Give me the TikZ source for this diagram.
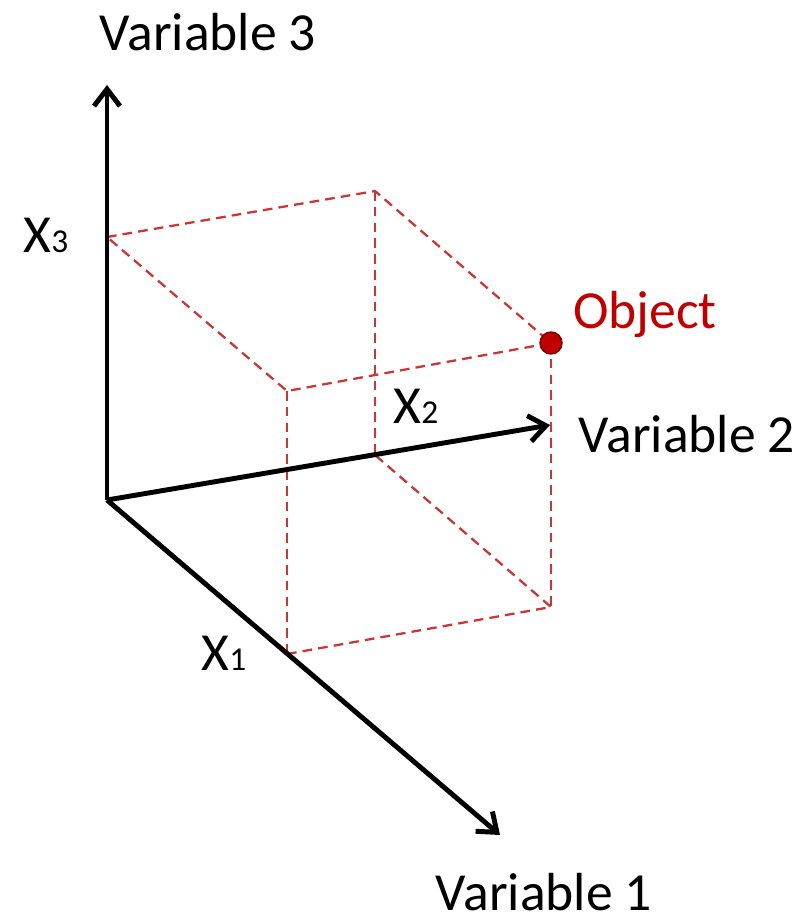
\documentclass[tikz,border=0pt]{standalone}
\usepackage{fontspec}
\setmainfont{Carlito}
\usetikzlibrary{arrows.meta}
\definecolor{objred}{RGB}{192,0,0}
\definecolor{projred}{RGB}{200,55,55}
\tikzset{
  axe/.style={line width=2.8pt, -{Straight Barb[length=3.4mm,width=5.2mm]}},
  proj/.style={projred, line width=1.3pt, dash pattern=on 5.5pt off 3.5pt},
  lbl/.style={font=\fontsize{30.5}{36}\selectfont, inner sep=0pt, anchor=base},
}
\newcommand{\idx}[1]{{\fontsize{19}{22}\selectfont #1}}

\begin{document}
\begin{tikzpicture}[x=0.02cm, y=-0.02cm]
\useasboundingbox (0,0) rectangle (812,924);
% Axes et points
\coordinate (O) at (107,500);
\coordinate (V1) at (500,835);
\coordinate (V2) at (550,425);
\coordinate (V3) at (107,85);
\coordinate (X1) at (287,654);
\coordinate (X2) at (375,455);
\coordinate (X3) at (107,237);
\coordinate (B) at (375,191);
\coordinate (F) at (287,391);
\coordinate (P) at (551,343);
\coordinate (Q) at (551,607);
% Projections
\draw[proj] (X3) -- (B) -- (P) -- (F) -- cycle;
\draw[proj] (X1) -- (Q) -- (X2);
\draw[proj] (B) -- (X2);
\draw[proj] (F) -- (X1);
\draw[proj] (P) -- (Q);
% Axes
\draw[axe] (O) -- (V3);
\draw[axe] (O) -- (V2);
\draw[axe] (O) -- (V1);
% Objet
\draw[fill=objred, draw=objred!60!black, line width=0.8pt] (P) circle (11);
% Etiquettes
\node[lbl] (v3) at (208,50) {Variable 3};
\node[lbl] (v2) at (687,452) {Variable 2};
\node[lbl] (v1) at (544,910) {Variable 1};
\node[lbl] (x3) at (46,252) {X\idx{3}};
\node[lbl] (x2) at (416,423) {X\idx{2}};
\node[lbl] (x1) at (224,670) {X\idx{1}};
\node[lbl, text=objred] (obj) at (645,328) {Object};
\end{tikzpicture}
\end{document}
